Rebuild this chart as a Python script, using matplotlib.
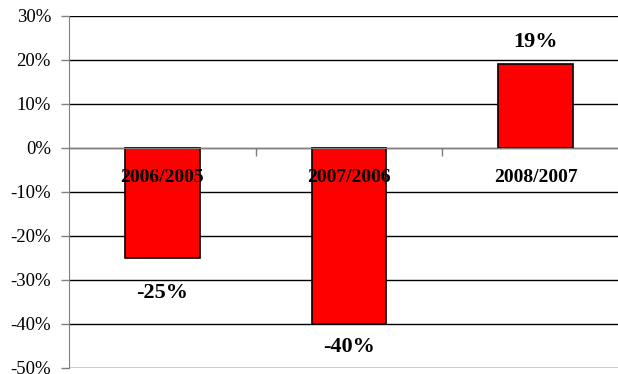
import matplotlib
matplotlib.use("Agg")
import matplotlib.pyplot as plt
from matplotlib.ticker import FuncFormatter

# year-over-year change
periods = ["2006/2005", "2007/2006", "2008/2007"]
changes = [-25, -40, 19]
label_offsets = [-35, -23, 22]  # pixels from bar end to value label

plt.rcParams["font.family"] = ["Liberation Serif", "DejaVu Serif"]

fig = plt.figure(figsize=(6.18, 3.74), dpi=100)
ax = fig.add_axes([69 / 618, 6 / 374, 560 / 618, 352 / 374])

x = list(range(len(periods)))
ax.bar(x, changes, width=0.4, color="#ff0000", edgecolor="black", linewidth=1.2, zorder=3)

ax.set_xlim(-0.5, len(periods) - 0.5)
ax.set_ylim(-50, 30)
ax.set_yticks(range(-50, 31, 10))
ax.yaxis.set_major_formatter(FuncFormatter(lambda v, p: f"{int(v)}%".replace("\u2212", "-")))
ax.tick_params(axis="y", direction="out", length=6, width=1, color="#808080",
               labelsize=13.5, pad=7)

# gridlines at each 10%
ax.yaxis.grid(True, color="black", linewidth=1)
ax.set_axisbelow(True)

# category axis sits on the zero line
for s in ["top", "right"]:
    ax.spines[s].set_visible(False)
ax.spines["left"].set_color("#808080")
ax.spines["bottom"].set_position(("data", 0))
ax.spines["bottom"].set_color("#808080")
ax.spines["bottom"].set_zorder(4)
ax.set_xticks([i + 0.5 for i in x[:-1]])
ax.set_xticklabels([])
ax.tick_params(axis="x", direction="out", length=6, width=1, color="#808080")

for i, name in enumerate(periods):
    ax.annotate(name, (i, 0), xytext=(0, -29 * 0.72), textcoords="offset points",
                ha="center", va="center", fontsize=14, fontweight="bold", zorder=5)

for i, v in enumerate(changes):
    ax.annotate(f"{v}%", (i, v), xytext=(0, label_offsets[i] * 0.72), textcoords="offset points",
                ha="center", va="center", fontsize=16, fontweight="bold", zorder=5)

fig.savefig("out.png", dpi=100)
